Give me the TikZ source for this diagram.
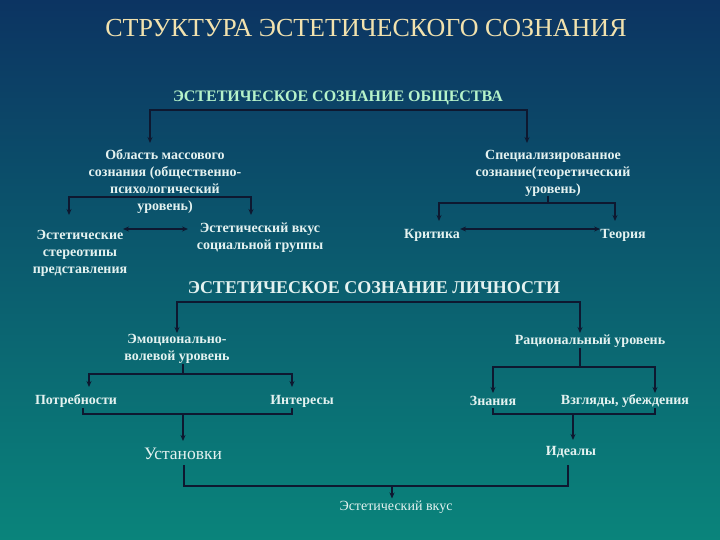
\documentclass[tikz,border=0pt]{standalone}
\usepackage{fontspec}
\setmainfont{Liberation Serif}
\usepackage{xcolor}
\usepackage{tikz}
\usetikzlibrary{arrows.meta, positioning}

\definecolor{bgtop}{HTML}{0C3462}
\definecolor{bgmid}{HTML}{0B5F6E}
\definecolor{bgbot}{HTML}{0A847B}
\definecolor{titlecol}{HTML}{F2E2AE}
\definecolor{mintcol}{HTML}{B5F2C9}
\definecolor{textcol}{HTML}{E4F2F0}
\definecolor{linecol}{HTML}{0E1830}

\begin{document}
\begin{tikzpicture}[
  x=1pt, y=-1pt,
  heading/.style={text=titlecol, inner sep=0pt, font=\fontsize{26}{30}\selectfont},
  level/.style={text=mintcol, inner sep=0pt, font=\bfseries\fontsize{16}{19}\selectfont},
  personal/.style={text=textcol, inner sep=0pt, font=\bfseries\fontsize{18}{21}\selectfont},
  part/.style={text=textcol, inner sep=0pt, align=center, font=\bfseries\fontsize{14}{17}\selectfont},
  result/.style={text=textcol, inner sep=0pt, font=\fontsize{17.5}{20}\selectfont},
  line/.style={draw=linecol, line width=1.2pt},
  arrow/.style={line, ->, >={Stealth[length=6pt,width=5pt]}},
  both/.style={line, <->, >={Stealth[length=6pt,width=5pt]}}
]

% Background
\shade[top color=bgtop, middle color=bgmid, bottom color=bgbot] (0,0) rectangle (720,540);
\useasboundingbox (0,0) rectangle (720,540);

% Headings
\node (title) [heading] at (366,28) {СТРУКТУРА ЭСТЕТИЧЕСКОГО СОЗНАНИЯ};
\node (soc) [level] at (338,98) {ЭСТЕТИЧЕСКОЕ СОЗНАНИЕ ОБЩЕСТВА};
\node (pers) [personal] at (374,288) {ЭСТЕТИЧЕСКОЕ СОЗНАНИЕ ЛИЧНОСТИ};

% Society
\node (mass) [part] at (165,182) {Область массового\\сознания (общественно-\\психологический\\уровень)};
\node (spec) [part] at (553,173) {Специализированное\\сознание(теоретический\\уровень)};
\node (stereo) [part] at (80,253) {Эстетические\\стереотипы\\представления};
\node (taste) [part] at (260,238) {Эстетический вкус\\социальной группы};
\node (crit) [part] at (432,235) {Критика};
\node (theory) [part] at (623,235) {Теория};

% Person
\node (emo) [part] at (177,349) {Эмоционально-\\волевой уровень};
\node (rat) [part] at (590,341) {Рациональный уровень};
\node (needs) [part] at (76,401) {Потребности};
\node (inter) [part] at (302,401) {Интересы};
\node (know) [part] at (493,401) {Знания};
\node (views) [part] at (625,401) {Взгляды, убеждения};
\node (attit) [result] at (183,454) {Установки};
\node (ideal) [part] at (571,452) {Идеалы};
\node (aesth) [part, font=\fontsize{14}{16}\selectfont] at (396,507) {Эстетический вкус};

% Bracket points
\coordinate (socbar) at (338,110);
\coordinate (massin) at (150,143);
\coordinate (specin) at (527,143);
\coordinate (massbar) at (165,197);
\coordinate (stin) at (69,215);
\coordinate (tain) at (251,215);
\coordinate (stR) at (123,229);
\coordinate (taL) at (188,229);
\coordinate (specbar) at (548,203);
\coordinate (crin) at (439,221);
\coordinate (thin) at (615,221);
\coordinate (persbar) at (378,302);
\coordinate (emin) at (177,333);
\coordinate (rain) at (580,333);
\coordinate (emobar) at (183,374);
\coordinate (needin) at (89,387);
\coordinate (intin) at (292,387);
\coordinate (ratbar) at (580,367);
\coordinate (knin) at (493,393);
\coordinate (viin) at (655,393);
\coordinate (nout) at (83,408);
\coordinate (iout) at (292,408);
\coordinate (joinA) at (183,414);
\coordinate (kout) at (493,408);
\coordinate (vout) at (655,408);
\coordinate (joinB) at (573,414);
\coordinate (aout) at (184,465);
\coordinate (idout) at (568,465);
\coordinate (joinC) at (392,486);

% Arrows
\draw [both] (massin) |- (socbar) -| (specin);
\draw [both] (stin) |- (massbar) -| (tain);
\draw [both] (stR) -- (taL);
\draw [line] (spec.south -| specbar) -- (specbar);
\draw [both] (crin) |- (specbar) -| (thin);
\draw [both] ([yshift=6pt]crit.east) -- ([yshift=6pt]theory.west);
\draw [both] (emin) |- (persbar) -| (rain);
\draw [line] (emo.south -| emobar) -- (emobar);
\draw [both] (needin) |- (emobar) -| (intin);
\draw [line] (rat.south -| ratbar) -- (ratbar);
\draw [both] (knin) |- (ratbar) -| (viin);
\draw [line] (nout) |- (joinA) -| (iout);
\draw [arrow, shorten >=7pt] (joinA) -- (attit.north);
\draw [line] (kout) |- (joinB) -| (vout);
\draw [arrow, shorten >=6pt] (joinB) -- (joinB |- ideal.north);
\draw [line] (aout) |- (joinC) -| (idout);
\draw [arrow, shorten >=2pt] (joinC) -- (joinC |- aesth.north);

\end{tikzpicture}
\end{document}
